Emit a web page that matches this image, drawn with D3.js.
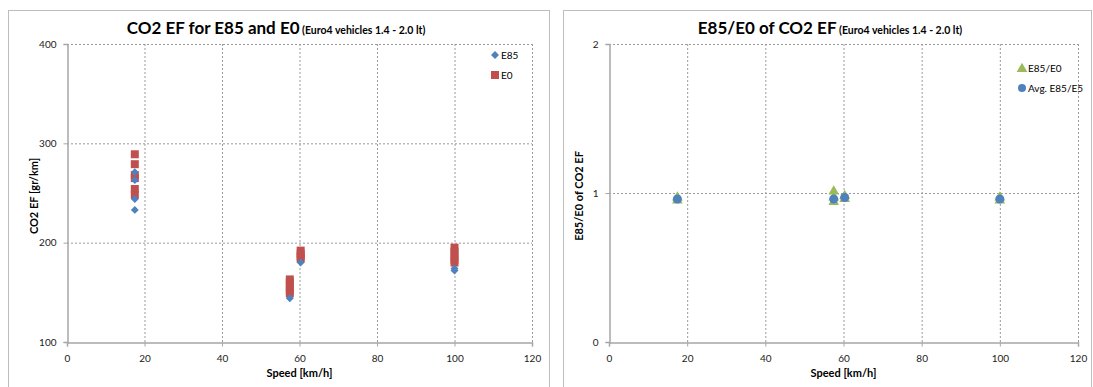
<!DOCTYPE html>
<html>
<head>
<meta charset="utf-8">
<script src="https://cdn.jsdelivr.net/npm/d3@7"></script>
<style>
  body { margin: 0; background: #fff; }
  svg text { font-family: Lato, "Open Sans", sans-serif; fill: #000; }
  .grid line { stroke: #9a9a9a; stroke-dasharray: 2,2; }
  .axis path, .axis line { stroke: #a6a6a6; }
  .axis text { font-size: 10px; fill: #222; }
</style>
</head>
<body>
<div id="chart"></div>
<script>
// speeds [km/h] and CO2 EF [gr/km]
const e85Speed = [17.5, 17.5, 17.5, 17.5, 57.5, 60.3, 100, 100];
const e85Co2   = [271, 263, 244, 233, 144, 180, 174, 172];
const e0Speed  = [17.5, 17.5, 17.5, 17.5, 17.5, 17.5, 57.5, 57.5, 57.5, 57.5, 57.5, 60.3, 60.3, 60.3, 60.3, 100, 100, 100, 100, 100];
const e0Co2    = [289, 279, 268, 265, 254, 248, 163, 160, 156, 152, 149, 192, 189, 186, 184, 195, 191, 187, 183, 180];

// ratio chart
const ratioSpeed = [17.5, 17.5, 57.5, 57.5, 57.5, 60.3, 60.3, 100, 100];
const ratioVal   = [0.97, 0.95, 1.01, 0.97, 0.94, 0.98, 0.96, 0.97, 0.95];
const avgSpeed   = [17.5, 57.5, 60.3, 100];
const avgVal     = [0.96, 0.96, 0.97, 0.96];

const xTicks = [0, 20, 40, 60, 80, 100, 120];

const width = 1093, height = 387;
const svg = d3.select("#chart").append("svg")
    .attr("width", width)
    .attr("height", height);

// panel frames
svg.append("rect").attr("x", 8.5).attr("y", 10.5).attr("width", 541).attr("height", 390)
    .attr("fill", "none").attr("stroke", "#bdbdbd");
svg.append("rect").attr("x", 563.5).attr("y", 10.5).attr("width", 528).attr("height", 390)
    .attr("fill", "none").attr("stroke", "#bdbdbd");

function drawPanel(opt) {
    const x = d3.scaleLinear().domain([0, 120]).range([opt.left, opt.right]);
    const y = d3.scaleLinear().domain(opt.yDomain).range([342, 44]);
    const g = svg.append("g");

    // grid
    g.append("g").attr("class", "grid")
        .selectAll("line").data(xTicks.slice(1)).enter().append("line")
        .attr("x1", d => x(d) + 0.5).attr("x2", d => x(d) + 0.5)
        .attr("y1", y.range()[1]).attr("y2", y.range()[0]);
    g.append("g").attr("class", "grid")
        .selectAll("line").data(opt.yTicks.slice(1)).enter().append("line")
        .attr("x1", opt.left).attr("x2", opt.right)
        .attr("y1", d => y(d) + 0.5).attr("y2", d => y(d) + 0.5);

    // axes
    g.append("g").attr("class", "axis")
        .attr("transform", `translate(0,${y.range()[0] + 0.5})`)
        .call(d3.axisBottom(x).tickValues(xTicks).tickSize(4).tickPadding(8))
        .call(a => a.select(".domain").attr("stroke-width", 1.5));
    g.append("g").attr("class", "axis")
        .attr("transform", `translate(${opt.left + 0.5},0)`)
        .call(d3.axisLeft(y).tickValues(opt.yTicks).tickFormat(d3.format("d")).tickSize(4).tickPadding(7))
        .call(a => a.select(".domain").attr("stroke-width", 1.5));
    g.selectAll(".axis .tick line").attr("stroke-width", 1);

    // titles
    const title = g.append("text")
        .attr("x", opt.titleX).attr("y", 34)
        .attr("text-anchor", "middle")
        .style("font-weight", "bold");
    title.append("tspan").style("font-size", "17px").text(opt.title);
    title.append("tspan").style("font-size", "10.5px").text(" " + opt.subtitle);

    g.append("text")
        .attr("x", (opt.left + opt.right) / 2).attr("y", 377)
        .attr("text-anchor", "middle")
        .style("font-size", "11px").style("font-weight", "bold")
        .text("Speed [km/h]");
    g.append("text")
        .attr("transform", `translate(${opt.yTitleX},${y(opt.yDomain[0] + (opt.yDomain[1] - opt.yDomain[0]) * 0.49)}) rotate(-90)`)
        .attr("text-anchor", "middle")
        .style("font-size", "11px").style("font-weight", "bold")
        .text(opt.yTitle);

    return { g, x, y };
}

// left chart
const left = drawPanel({
    left: 67, right: 532, yDomain: [100, 400], yTicks: [100, 200, 300, 400],
    titleX: 276, title: "CO2 EF for E85 and E0", subtitle: "(Euro4 vehicles 1.4 - 2.0 lt)",
    yTitleX: 38, yTitle: "CO2 EF [gr/km]"
});

const diamond = d3.symbol().type(d3.symbolDiamond2).size(40);

left.g.selectAll(".e0").data(e0Co2).enter().append("rect")
    .attr("x", (d, i) => left.x(e0Speed[i]) - 4)
    .attr("y", d => left.y(d) - 4)
    .attr("width", 8).attr("height", 8)
    .attr("fill", "#C0504D");
left.g.selectAll(".e85").data(e85Co2).enter().append("path")
    .attr("d", diamond)
    .attr("transform", (d, i) => `translate(${left.x(e85Speed[i])},${left.y(d)})`)
    .attr("fill", "#4F81BD");

// left legend
left.g.append("path").attr("d", diamond).attr("transform", "translate(495,55)").attr("fill", "#4F81BD");
left.g.append("text").attr("x", 501).attr("y", 59).style("font-size", "10px").text("E85");
left.g.append("rect").attr("x", 491).attr("y", 71).attr("width", 8).attr("height", 8).attr("fill", "#C0504D");
left.g.append("text").attr("x", 501).attr("y", 79).style("font-size", "10px").text("E0");

// right chart
const right = drawPanel({
    left: 609, right: 1078, yDomain: [0, 2], yTicks: [0, 1, 2],
    titleX: 830, title: "E85/E0 of CO2 EF", subtitle: "(Euro4 vehicles 1.4 - 2.0 lt)",
    yTitleX: 583, yTitle: "E85/E0 of CO2 EF"
});

const tri = d3.symbol().type(d3.symbolTriangle).size(50);

right.g.selectAll(".ratio").data(ratioVal).enter().append("path")
    .attr("d", tri)
    .attr("transform", (d, i) => `translate(${right.x(ratioSpeed[i])},${right.y(d)})`)
    .attr("fill", "#9BBB59");
right.g.selectAll(".avg").data(avgVal).enter().append("circle")
    .attr("cx", (d, i) => right.x(avgSpeed[i]))
    .attr("cy", d => right.y(d))
    .attr("r", 4.5)
    .attr("fill", "#4F81BD");

// right legend
right.g.append("path").attr("d", tri).attr("transform", "translate(1022,69)").attr("fill", "#9BBB59");
right.g.append("text").attr("x", 1028).attr("y", 72).style("font-size", "10px").text("E85/E0");
right.g.append("circle").attr("cx", 1022).attr("cy", 88).attr("r", 4).attr("fill", "#4F81BD");
right.g.append("text").attr("x", 1028).attr("y", 92).style("font-size", "10px").text("Avg. E85/E5");
</script>
</body>
</html>
